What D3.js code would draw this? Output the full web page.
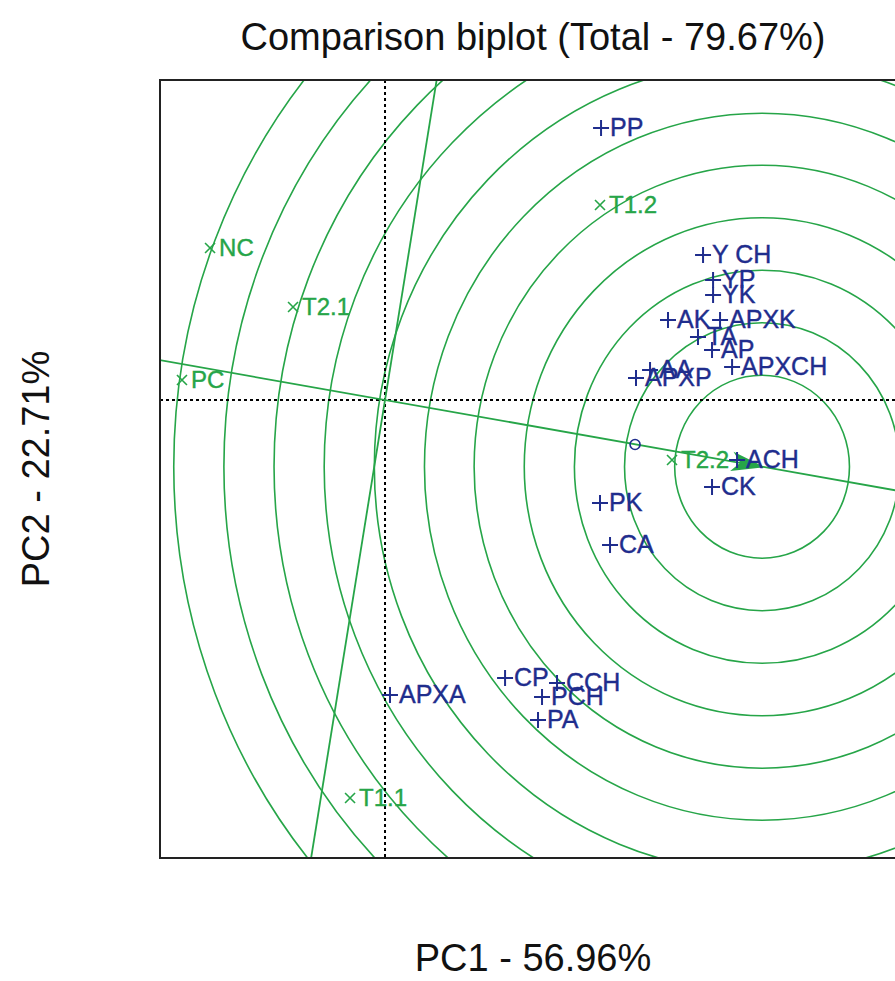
<!DOCTYPE html>
<html>
<head>
<meta charset="utf-8">
<script src="https://cdn.jsdelivr.net/npm/d3@7"></script>
<style>
  html, body { margin: 0; padding: 0; background: #fff; }
  svg { display: block; font-family: "Liberation Sans", Arial, Helvetica, sans-serif; }
</style>
</head>
<body>
<svg id="chart" width="895" height="981"></svg>
<script>
// Genotype scores (PC1, PC2)
const genotypes = ["PP", "Y CH", "YP", "YK", "AK", "APXK", "TA", "AP", "APXCH", "AA", "APXP",
                   "ACH", "CK", "PK", "CA", "CP", "CCH", "PCH", "PA", "APXA"];
const genoPC1 = [2.262, 3.330, 3.435, 3.435, 2.963, 3.508, 3.277, 3.424, 3.634, 2.775, 2.628,
                 3.686, 3.424, 2.251, 2.356, 1.257, 1.801, 1.644, 1.602, 0.052];
const genoPC2 = [2.72, 1.45, 1.20, 1.05, 0.80, 0.80, 0.63, 0.50, 0.33, 0.30, 0.22,
                 -0.60, -0.87, -1.03, -1.45, -2.78, -2.83, -2.97, -3.20, -2.95];

// Environment scores (PC1, PC2)
const environments = ["NC", "T2.1", "PC", "T1.2", "T1.1", "T2.2"];
const envPC1 = [-1.832, -0.963, -2.126, 2.251, -0.366, 3.005];
const envPC2 = [1.52, 0.93, 0.20, 1.95, -3.98, -0.60];

// Ideal genotype, average environment and concentric distance rings
const idealPoint = [3.948, -0.667];
const avgEnv = [2.618, -0.445];
const ringRadii = [0.915, 1.44, 1.965, 2.49, 3.015, 3.535, 4.06, 4.585, 5.11, 5.635, 6.16];

const titleText = "Comparison biplot (Total - 79.67%)";
const xTitle = "PC1 - 56.96%";
const yTitle = "PC2 - 22.71%";

const GREEN = "#26a548";
const BLUE = "#1f2d8d";

const plot = { left: 160, top: 80, right: 906, bottom: 858 };
const x = d3.scaleLinear().domain([-2.356, 5.455]).range([plot.left, plot.right]);
const y = d3.scaleLinear().domain([-4.58, 3.20]).range([plot.bottom, plot.top]);

const svg = d3.select("#chart");

svg.append("defs").append("clipPath").attr("id", "plotClip")
  .append("rect")
  .attr("x", plot.left).attr("y", plot.top)
  .attr("width", plot.right - plot.left).attr("height", plot.bottom - plot.top);

const g = svg.append("g").attr("clip-path", "url(#plotClip)");

// Distance rings around the ideal genotype
g.selectAll("ellipse.ring").data(ringRadii).join("ellipse")
  .attr("class", "ring")
  .attr("cx", x(idealPoint[0])).attr("cy", y(idealPoint[1]))
  .attr("rx", r => x(idealPoint[0] + r) - x(idealPoint[0]))
  .attr("ry", r => y(idealPoint[1] - r) - y(idealPoint[1]))
  .attr("fill", "none").attr("stroke", GREEN).attr("stroke-width", 1.6);

// Dotted axes through the origin
g.append("line")
  .attr("x1", x(0)).attr("x2", x(0)).attr("y1", plot.top).attr("y2", plot.bottom)
  .attr("stroke", "#000").attr("stroke-width", 2).attr("stroke-dasharray", "3,3");
g.append("line")
  .attr("x1", plot.left).attr("x2", plot.right).attr("y1", y(0)).attr("y2", y(0))
  .attr("stroke", "#000").attr("stroke-width", 2).attr("stroke-dasharray", "3,3");

// Average-environment axis through origin and the ideal point
const t = 10;
g.append("line")
  .attr("x1", x(-t * idealPoint[0])).attr("y1", y(-t * idealPoint[1]))
  .attr("x2", x(t * idealPoint[0])).attr("y2", y(t * idealPoint[1]))
  .attr("stroke", GREEN).attr("stroke-width", 1.8);

// Perpendicular axis through the origin
g.append("line")
  .attr("x1", x(t * idealPoint[1])).attr("y1", y(-t * idealPoint[0]))
  .attr("x2", x(-t * idealPoint[1])).attr("y2", y(t * idealPoint[0]))
  .attr("stroke", GREEN).attr("stroke-width", 1.8);

// Arrow head at the ideal genotype
{
  const tipX = x(idealPoint[0]), tipY = y(idealPoint[1]);
  const ang = Math.atan2(tipY - y(0), tipX - x(0));
  const len = 28, half = 8;
  const bx = tipX - len * Math.cos(ang), by = tipY - len * Math.sin(ang);
  const px = -Math.sin(ang) * half, py = Math.cos(ang) * half;
  g.append("path")
    .attr("d", `M${tipX},${tipY}L${bx + px},${by + py}L${bx + len * 0.25 * Math.cos(ang)},${by + len * 0.25 * Math.sin(ang)}L${bx - px},${by - py}Z`)
    .attr("fill", GREEN).attr("stroke", GREEN).attr("stroke-width", 1.8);
}

// Average environment marker
g.append("circle")
  .attr("cx", x(avgEnv[0])).attr("cy", y(avgEnv[1])).attr("r", 5)
  .attr("fill", "none").attr("stroke", BLUE).attr("stroke-width", 1.6);

// Environments: cross markers and labels
const envData = environments.map((n, i) => ({ name: n, pc1: envPC1[i], pc2: envPC2[i] }));
const envG = g.selectAll("g.env").data(envData).join("g")
  .attr("class", "env")
  .attr("transform", d => `translate(${x(d.pc1)},${y(d.pc2)})`);
envG.append("path").attr("d", "M-5,-5L5,5M-5,5L5,-5")
  .attr("stroke", GREEN).attr("stroke-width", 1.6);
envG.append("text").attr("x", 9).attr("y", 0).attr("dy", "0.35em")
  .attr("font-size", 24).attr("fill", GREEN)
  .attr("stroke", GREEN).attr("stroke-width", 0.4).text(d => d.name);

// Genotypes: plus markers and labels
const genoData = genotypes.map((n, i) => ({ name: n, pc1: genoPC1[i], pc2: genoPC2[i] }));
const genoG = g.selectAll("g.geno").data(genoData).join("g")
  .attr("class", "geno")
  .attr("transform", d => `translate(${x(d.pc1)},${y(d.pc2)})`);
genoG.append("path").attr("d", "M-8,0L8,0M0,-8L0,8")
  .attr("stroke", BLUE).attr("stroke-width", 2);
genoG.append("text").attr("x", 9).attr("y", 0).attr("dy", "0.33em")
  .attr("font-size", 25).attr("fill", BLUE)
  .attr("stroke", BLUE).attr("stroke-width", 0.4).text(d => d.name);

// Plot frame
svg.append("rect")
  .attr("x", plot.left).attr("y", plot.top)
  .attr("width", plot.right - plot.left).attr("height", plot.bottom - plot.top)
  .attr("fill", "none").attr("stroke", "#222").attr("stroke-width", 2);

// Titles
svg.append("text").attr("x", (plot.left + plot.right) / 2).attr("y", 50)
  .attr("text-anchor", "middle").attr("font-size", 38).attr("fill", "#111").text(titleText);
svg.append("text").attr("x", (plot.left + plot.right) / 2).attr("y", 971)
  .attr("text-anchor", "middle").attr("font-size", 38).attr("fill", "#111").text(xTitle);
svg.append("text")
  .attr("transform", `translate(49,${(plot.top + plot.bottom) / 2}) rotate(-90)`)
  .attr("text-anchor", "middle").attr("font-size", 38).attr("fill", "#111").text(yTitle);
</script>
</body>
</html>
